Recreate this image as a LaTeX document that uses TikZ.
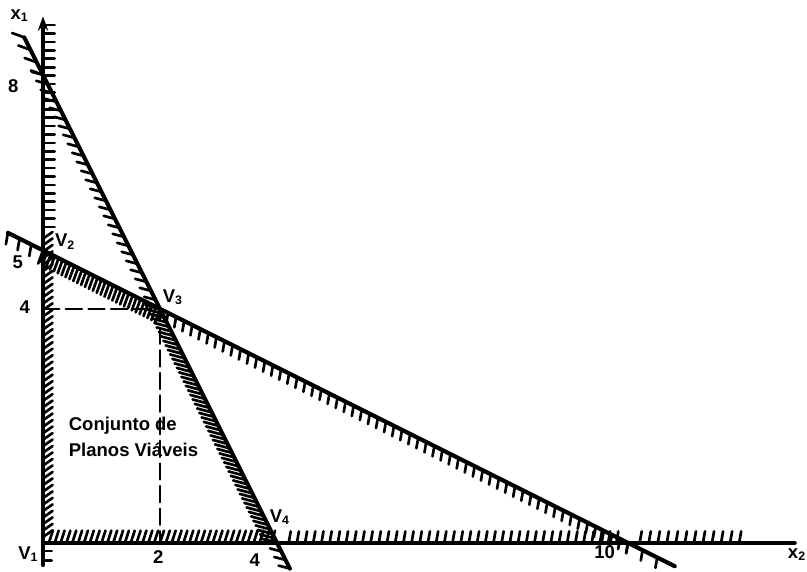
\documentclass[tikz,border=0pt]{standalone}
\usepackage{fontspec}
\setmainfont{Liberation Sans}
\usetikzlibrary{calc,arrows.meta}
\newcommand{\hatchseg}[5]{\foreach \k in {0,...,#3}
  \draw[hatch] ($(#1)!{\k/#3}!(#2)$) -- ++(#4:#5);}
\begin{document}
\begin{tikzpicture}[font=\fontsize{9}{10}\selectfont\bfseries,line cap=round,
  edge/.style={line width=2pt},hatch/.style={line width=1.3pt},
  guide/.style={line width=0.9pt,dash pattern=on 8pt off 3pt},
  lbl/.style={inner sep=1pt}]
\useasboundingbox (-0.735,-0.496) rectangle (13.06,9.28);
\coordinate (V1) at (0,0);
\coordinate (V2) at (0,5);
\coordinate (V3) at (2,4);
\coordinate (V4) at (4,0);
\coordinate (P8) at (0,8);
\coordinate (P10) at (10,0);
\coordinate (ra) at (-0.32,8.64);
\coordinate (rb) at (4.22,-0.44);
\coordinate (sa) at (-0.6,5.3);
\coordinate (sb) at (10.8,-0.4);
\coordinate (ya) at (0,-0.38);
\coordinate (yb) at (0,9.0);
\coordinate (xb) at (12.85,0);
\coordinate (g1) at (0,4);
\coordinate (g2) at (2,0);
% retas e eixos
\draw[edge,-{Stealth[length=7pt,width=5pt]}] (ya) -- (yb);
\draw[edge] (V1) -- (xb);
\draw[edge] (ra) -- (rb);
\draw[edge] (sa) -- (sb);
\draw[guide] (g1) -- (V3) -- (g2);
% hachuras
\hatchseg{0,5.4}{0,8.85}{24}{0}{0.2}
\hatchseg{0,0.1}{0,5.2}{46}{35}{0.2}
\hatchseg{0,-0.14}{0,-0.3}{1}{0}{0.15}
\hatchseg{0.1,0}{3.9,0}{38}{72}{0.22}
\hatchseg{4.2,0}{9.8,0}{40}{80}{0.2}
\hatchseg{10.2,0}{11.9,0}{11}{80}{0.2}
\hatchseg{ra}{P8}{3}{160}{0.22}
\hatchseg{P8}{V3}{26}{165}{0.2}
\hatchseg{V3}{V4}{52}{165}{0.26}
\hatchseg{V4}{rb}{3}{165}{0.2}
\hatchseg{sa}{V2}{3}{-100}{0.2}
\hatchseg{V2}{V3}{30}{-110}{0.24}
\hatchseg{V3}{P10}{58}{-100}{0.18}
\hatchseg{P10}{10.5,-0.25}{2}{-100}{0.18}
% textos
\node[lbl] (lx1) at (-0.4,9.02) {x\textsubscript{1}};
\node[lbl] (lx2) at (12.89,-0.2) {x\textsubscript{2}};
\node[lbl] (l8) at (-0.51,7.8) {8};
\node[lbl] (l5) at (-0.43,4.8) {5};
\node[lbl] (l4y) at (-0.31,4.03) {4};
\node[lbl] (l2) at (1.97,-0.24) {2};
\node[lbl] (l4x) at (3.62,-0.29) {4};
\node[lbl] (l10) at (9.6,-0.15) {10};
\node[lbl] (nV1) at (-0.25,-0.19) {V\textsubscript{1}};
\node[lbl] (nV2) at (0.38,5.15) {V\textsubscript{2}};
\node[lbl] (nV3) at (2.22,4.2) {V\textsubscript{3}};
\node[lbl] (nV4) at (4.05,0.44) {V\textsubscript{4}};
\node[lbl,anchor=west,align=left,font=\fontsize{9}{13}\selectfont\bfseries] (conj) at (0.4,1.81) {Conjunto de\\Planos Viáveis};
\end{tikzpicture}
\end{document}
